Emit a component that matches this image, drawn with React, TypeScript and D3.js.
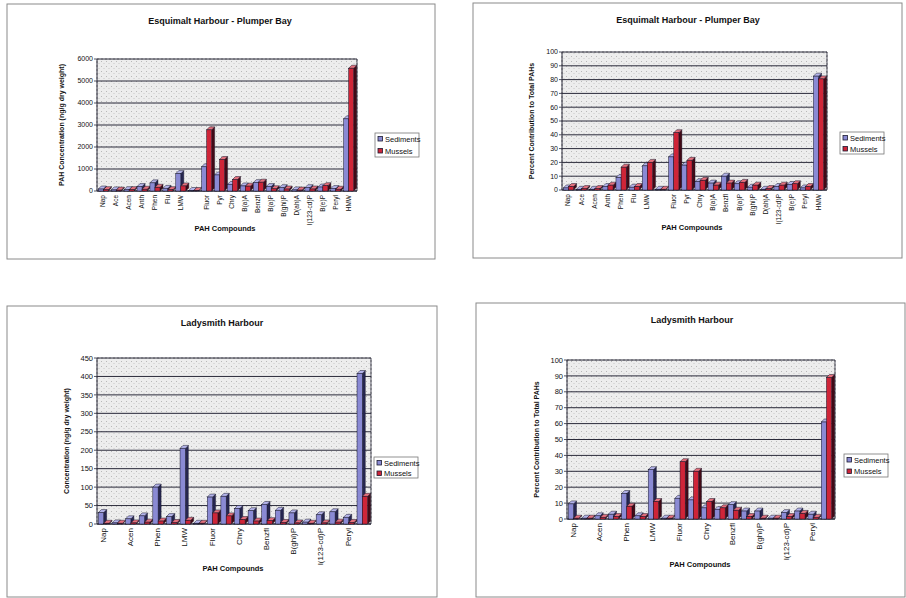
import React from "react";
import * as d3 from "d3";

const categories = ["Nap", "Ace", "Acen", "Anth", "Phen", "Flu", "LMW", "", "Fluor", "Pyr", "Chry", "B(a)A", "Benzfl", "B(a)P", "B(ghi)P", "D(ah)A", "I(123-cd)P", "B(e)P", "Peryl", "HMW"];
const seriesNames = ["Sediments", "Mussels"];

// Esquimalt Harbour - Plumper Bay, concentration (ng/g dry weight)
const esqConcSed = [90, 50, 60, 200, 370, 120, 790, 20, 1100, 730, 300, 230, 380, 200, 150, 50, 150, 180, 110, 3280];
const esqConcMus = [60, 40, 60, 80, 170, 60, 230, 20, 2780, 1430, 520, 220, 400, 100, 90, 40, 90, 240, 80, 5580];
// Esquimalt Harbour - Plumper Bay, percent of total PAHs
const esqPctSed = [1.5, 0.5, 0.5, 2.5, 9, 2, 17.5, 0.5, 24, 18, 6, 5, 10, 4.5, 2, 0.5, 2.5, 4, 1.5, 82.5];
const esqPctMus = [2.5, 1, 1, 3.5, 16.5, 2.5, 20, 0.5, 41.5, 21.5, 7, 3.5, 5, 5.5, 3.5, 1, 3.5, 4.5, 2.5, 80.5];
// Ladysmith Harbour, concentration (ng/g dry weight)
const ladConcSed = [31, 3, 14, 22, 100, 20, 205, 2, 73, 75, 42, 36, 53, 37, 30, 5, 25, 33, 18, 408];
const ladConcMus = [2, 2, 3, 5, 8, 4, 10, 2, 30, 22, 12, 8, 9, 4, 3, 2, 3, 5, 4, 75];
// Ladysmith Harbour, percent of total PAHs
const ladPctSed = [9.5, 0.5, 2, 3, 16, 2, 31, 0.5, 13, 12, 7, 6, 9, 5, 5, 0.5, 4, 5, 3, 61];
const ladPctMus = [0.5, 0.5, 1, 1.5, 8, 1.5, 11, 0.5, 36, 30, 11, 7, 5.5, 1.5, 0.5, 0.5, 1.5, 3.5, 1, 89];

const concTicksEsq = [0, 1000, 2000, 3000, 4000, 5000, 6000];
const pctTicks = [0, 10, 20, 30, 40, 50, 60, 70, 80, 90, 100];
const concTicksLad = [0, 50, 100, 150, 200, 250, 300, 350, 400, 450];

const titleEsq = "Esquimalt Harbour - Plumper Bay";
const titleLad = "Ladysmith Harbour";
const yLabelEsqConc = "PAH Concentration (ng/g dry weight)";
const yLabelLadConc = "Concentration (ng/g dry weight)";
const yLabelPct = "Percent Contribution to Total PAHs";
const xLabel = "PAH Compounds";

type Panel = {
  frame: [number, number, number, number];
  plot: [number, number, number, number]; // left, top, right, bottom
  title: string;
  titlePos: [number, number];
  yLabel: string;
  yLabelX: number;
  xLabelPos: [number, number];
  legend: [number, number, number, number];
  ticks: number[];
  sed: number[];
  mus: number[];
  every: number;
  tickFont: number;
  catFont: number;
};

const panels: Panel[] = [
  {
    frame: [7, 4, 428, 255], plot: [97, 59, 357, 191], title: titleEsq, titlePos: [220, 24],
    yLabel: yLabelEsqConc, yLabelX: 64, xLabelPos: [225, 231], legend: [375, 133, 44, 24],
    ticks: concTicksEsq, sed: esqConcSed, mus: esqConcMus, every: 1, tickFont: 7, catFont: 6.5,
  },
  {
    frame: [473, 3, 429, 255], plot: [562, 52, 827, 190], title: titleEsq, titlePos: [688, 23],
    yLabel: yLabelPct, yLabelX: 534, xLabelPos: [692, 230], legend: [840, 132, 44, 22],
    ticks: pctTicks, sed: esqPctSed, mus: esqPctMus, every: 1, tickFont: 7, catFont: 6.5,
  },
  {
    frame: [7, 306, 430, 291], plot: [97, 358, 371, 524], title: titleLad, titlePos: [222, 326],
    yLabel: yLabelLadConc, yLabelX: 69, xLabelPos: [233, 571], legend: [374, 457, 44, 21],
    ticks: concTicksLad, sed: ladConcSed, mus: ladConcMus, every: 2, tickFont: 7.5, catFont: 8,
  },
  {
    frame: [476, 303, 429, 294], plot: [567, 360, 835, 519], title: titleLad, titlePos: [692, 323],
    yLabel: yLabelPct, yLabelX: 539, xLabelPos: [700, 567], legend: [844, 454, 44, 23],
    ticks: pctTicks, sed: ladPctSed, mus: ladPctMus, every: 2, tickFont: 7.5, catFont: 8,
  },
];

const FONT = "'Liberation Sans', Arial, sans-serif";
const SED = { front: "#8a8ad4", top: "#b4b4ea", side: "#262650" };
const MUS = { front: "#cf2538", top: "#e4707c", side: "#420a16" };
const DX = 3;
const DY = 3;

function Bar({ x, y, w, y0, c }: { x: number; y: number; w: number; y0: number; c: typeof SED }) {
  const h = Math.max(0.5, y0 - y);
  const yt = y0 - h;
  return (
    <g>
      <polygon
        points={`${x + w},${yt} ${x + w + DX},${yt - DY} ${x + w + DX},${y0 - DY} ${x + w},${y0}`}
        fill={c.side}
        stroke="#141428"
        strokeWidth={0.4}
      />
      <polygon
        points={`${x},${yt} ${x + DX},${yt - DY} ${x + w + DX},${yt - DY} ${x + w},${yt}`}
        fill={c.top}
        stroke="#141428"
        strokeWidth={0.5}
      />
      <rect x={x} y={yt} width={w} height={h} fill={c.front} stroke="#141428" strokeWidth={0.5} />
    </g>
  );
}

function ChartPanel({ p }: { p: Panel }) {
  const [l, t, r, b] = p.plot;
  const yMax = p.ticks[p.ticks.length - 1];
  const y = d3.scaleLinear().domain([0, yMax]).range([b, t]);
  const x = d3.scaleBand<number>().domain(d3.range(categories.length)).range([l, r - 2]).paddingInner(0.22).paddingOuter(0.1);
  const bw = x.bandwidth() / 2;
  const [fx, fy, fw, fh] = p.frame;
  const [lx, ly, lw, lh] = p.legend;
  return (
    <g>
      <rect x={fx} y={fy} width={fw} height={fh} fill="#ffffff" stroke="#8a8a8a" strokeWidth={1} />
      <text x={p.titlePos[0]} y={p.titlePos[1]} textAnchor="middle" fontFamily={FONT} fontWeight="bold" fontSize={9} fill="#111">
        {p.title}
      </text>
      {/* back wall */}
      <rect x={l} y={t} width={r - l} height={b - t} fill="url(#speckle)" stroke="#777" strokeWidth={0.8} strokeDasharray="2,2" />
      {/* gridlines */}
      {p.ticks.map((v) => (
        <g key={v}>
          <line x1={l} x2={r} y1={y(v)} y2={y(v)} stroke="#2a2a3a" strokeWidth={1} />
          <line x1={l - 3} x2={l} y1={y(v)} y2={y(v)} stroke="#2a2a3a" strokeWidth={0.8} />
          <text x={l - 4} y={y(v)} dy="0.35em" textAnchor="end" fontFamily={FONT} fontSize={p.tickFont} fill="#111">
            {v}
          </text>
        </g>
      ))}
      <line x1={l} x2={l} y1={t} y2={b} stroke="#2a2a3a" strokeWidth={1} />
      <line x1={l} x2={r} y1={b} y2={b} stroke="#2a2a3a" strokeWidth={1.2} />
      <line x1={r} x2={r} y1={t} y2={b} stroke="#2a2a3a" strokeWidth={0.8} />
      {/* bars */}
      {categories.map((_, i) => {
        const bx = x(i) as number;
        return (
          <g key={i}>
            <Bar x={bx} y={y(p.sed[i])} w={bw} y0={b} c={SED} />
            <Bar x={bx + bw} y={y(p.mus[i])} w={bw} y0={b} c={MUS} />
          </g>
        );
      })}
      {/* category labels */}
      {categories.map((c, i) =>
        i % p.every === 0 && c !== "" ? (
          <text
            key={"c" + i}
            transform={`translate(${(x(i) as number) + x.bandwidth() / 2 + 2},${b + 4}) rotate(-90)`}
            textAnchor="end"
            fontFamily={FONT}
            fontSize={p.catFont}
            fill="#111"
          >
            {c}
          </text>
        ) : null
      )}
      <text
        transform={`translate(${p.yLabelX},${(t + b) / 2}) rotate(-90)`}
        textAnchor="middle"
        fontFamily={FONT}
        fontWeight="bold"
        fontSize={7}
        fill="#111"
      >
        {p.yLabel}
      </text>
      <text x={p.xLabelPos[0]} y={p.xLabelPos[1]} textAnchor="middle" fontFamily={FONT} fontWeight="bold" fontSize={7.5} fill="#111">
        {xLabel}
      </text>
      {/* legend */}
      <rect x={lx} y={ly} width={lw} height={lh} fill="#ffffff" stroke="#777" strokeWidth={0.8} />
      {seriesNames.map((s, k) => (
        <g key={s}>
          <rect
            x={lx + 3}
            y={ly + 4 + k * (lh / 2) - 0.5}
            width={4.5}
            height={4.5}
            fill={k === 0 ? SED.front : MUS.front}
            stroke="#1a1a30"
            strokeWidth={0.8}
          />
          <text x={lx + 10} y={ly + 8.5 + k * (lh / 2)} fontFamily={FONT} fontSize={7.5} fill="#111">
            {s}
          </text>
        </g>
      ))}
    </g>
  );
}

export default function App() {
  return (
    <svg width={906} height={598} style={{ position: "absolute", left: 0, top: 0, background: "#ffffff" }}>
      <defs>
        <pattern id="speckle" width={5} height={5} patternUnits="userSpaceOnUse">
          <rect width={5} height={5} fill="#ededed" />
          <rect x={1} y={1} width={1} height={1} fill="#b8b8b8" />
          <rect x={3.5} y={3} width={1} height={1} fill="#c8c8c8" />
        </pattern>
      </defs>
      <rect width={906} height={598} fill="#ffffff" />
      {panels.map((p, i) => (
        <ChartPanel key={i} p={p} />
      ))}
    </svg>
  );
}
